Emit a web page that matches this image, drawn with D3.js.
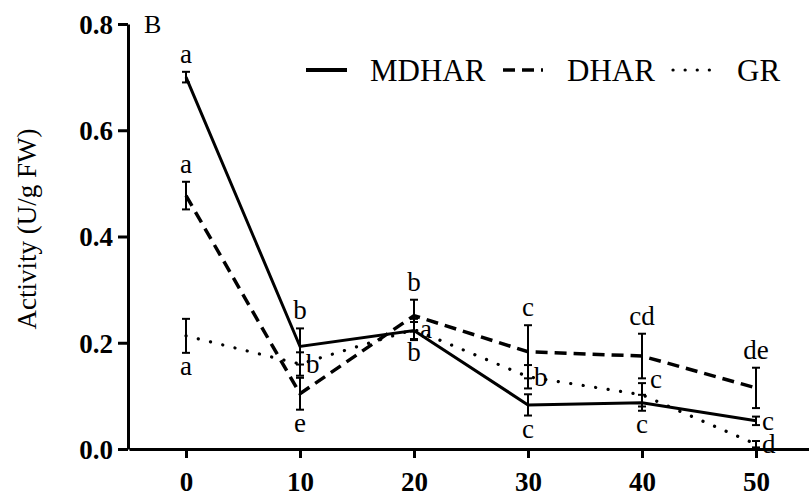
<!DOCTYPE html>
<html>
<head>
<meta charset="utf-8">
<script src="https://cdn.jsdelivr.net/npm/d3@7"></script>
<style>
  body { margin: 0; background: #fff; }
  svg { display: block; }
</style>
</head>
<body>
<svg id="chart" width="809" height="498"></svg>
<script>
var days = [0, 10, 20, 30, 40, 50];
var xTicks = [0, 10, 20, 30, 40, 50];
var yTicks = [0, 0.2, 0.4, 0.6, 0.8];

var mdhar = [0.70, 0.193, 0.223, 0.083, 0.087, 0.053];
var mdharErr = [0.010, 0.034, 0.016, 0.020, 0.015, 0.008];
var mdharLetters = ["a", "b", "b", "c", "c", "c"];
var mdharWhere = ["above", "above", "below", "below", "below", "right"];

var dhar = [0.477, 0.104, 0.251, 0.183, 0.175, 0.115];
var dharErr = [0.026, 0.030, 0.030, 0.050, 0.042, 0.038];
var dharLetters = ["a", "e", "b", "c", "cd", "de"];
var dharWhere = ["above", "below", "above", "above", "above", "above"];

var gr = [0.213, 0.160, 0.225, 0.136, 0.102, 0.009];
var grErr = [0.032, 0.022, 0.020, 0.022, 0.022, 0.006];
var grLetters = ["a", "b", "a", "b", "c", "d"];
var grWhere = ["below", "right", "right", "right", "upright", "right"];

var seriesNames = ["MDHAR", "DHAR", "GR"];

///////////////////////////////////////////////////////////////////////////////

var FONT = "Liberation Serif";
var svg = d3.select("#chart");

var x = d3.scaleLinear().domain([-5, 55]).range([129, 813]);
var y = d3.scaleLinear().domain([0, 0.8]).range([449, 24]);

var series = [
  { name: seriesNames[0], values: mdhar, err: mdharErr, letters: mdharLetters, where: mdharWhere,
    dash: null, width: 3 },
  { name: seriesNames[1], values: dhar, err: dharErr, letters: dharLetters, where: dharWhere,
    dash: "12 7", width: 3.5 },
  { name: seriesNames[2], values: gr, err: grErr, letters: grLetters, where: grWhere,
    dash: "0.1 12.5", width: 3.2 }
];

var addText = function (px, py, str, size) {
  return svg.append("text")
    .attr("x", px)
    .attr("y", py)
    .attr("font-family", FONT)
    .attr("font-size", size)
    .attr("fill", "#000")
    .text(str);
};

// axes
var yAxis = svg.append("g")
  .attr("transform", "translate(" + 128 + ",0)")
  .call(d3.axisLeft(y).tickValues(yTicks).tickFormat(d3.format(".1f"))
        .tickSize(10).tickSizeOuter(0).tickPadding(5));

var xAxis = svg.append("g")
  .attr("transform", "translate(0," + 449 + ")")
  .call(d3.axisBottom(x).tickValues(xTicks).tickSize(9).tickSizeOuter(0).tickPadding(14));

[yAxis, xAxis].forEach(function (g) {
  g.attr("font-family", FONT).attr("font-size", 27).attr("font-weight", "bold");
  g.selectAll("path, line").attr("stroke", "#000").attr("stroke-width", 3);
  g.selectAll("text").attr("fill", "#000").attr("font-family", FONT);
});
yAxis.selectAll("text").attr("dy", "0.35em");

addText(0, 0, "Activity (U/g FW)", 27)
  .attr("transform", "translate(36,229) rotate(-90)")
  .attr("text-anchor", "middle");

addText(144, 33, "B", 26);

///////////////////////////////////////////////////////////////////////////////

var line = d3.line()
  .x(function (d, i) { return x(days[i]); })
  .y(function (d) { return y(d); });

series.forEach(function (s) {
  var g = svg.append("g");

  // error bars
  s.values.forEach(function (v, i) {
    var cx = x(days[i]), top = y(v + s.err[i]), bot = y(v - s.err[i]);
    g.append("line").attr("x1", cx).attr("x2", cx).attr("y1", top).attr("y2", bot)
      .attr("stroke", "#000").attr("stroke-width", 2);
    [top, bot].forEach(function (yy) {
      g.append("line").attr("x1", cx - 4).attr("x2", cx + 4).attr("y1", yy).attr("y2", yy)
        .attr("stroke", "#000").attr("stroke-width", 2);
    });
  });

  g.append("path")
    .datum(s.values)
    .attr("d", line)
    .attr("fill", "none")
    .attr("stroke", "#000")
    .attr("stroke-width", s.width)
    .attr("stroke-linecap", s.dash === "0.1 12.5" ? "round" : "butt")
    .attr("stroke-dasharray", s.dash);

  // significance letters
  s.letters.forEach(function (t, i) {
    var cx = x(days[i]), v = s.values[i], e = s.err[i];
    var tx = cx, ty, anchor = "middle";
    if (s.where[i] === "above") {
      ty = y(v + e) - 9;
    } else if (s.where[i] === "below") {
      ty = y(v - e) + 22;
    } else if (s.where[i] === "upright") {
      tx = cx + 8; ty = y(v) - 7; anchor = "start";
    } else {
      tx = cx + 6; ty = y(v) + 9; anchor = "start";
    }
    addText(tx, ty, t, 27).attr("text-anchor", anchor);
  });
});

///////////////////////////////////////////////////////////////////////////////

var legendX = [306, 503, 673];
var legendLen = [41, 40, 37];
var legendTextX = [370, 567, 737];

series.forEach(function (s, i) {
  svg.append("line")
    .attr("x1", legendX[i])
    .attr("x2", legendX[i] + legendLen[i])
    .attr("y1", 70)
    .attr("y2", 70)
    .attr("stroke", "#000")
    .attr("stroke-width", i === 0 ? 4 : s.width)
    .attr("stroke-linecap", i === 2 ? "round" : "butt")
    .attr("stroke-dasharray", i === 2 ? "0.1 12" : s.dash);
  addText(legendTextX[i], 81, s.name, 31);
});
</script>
</body>
</html>
